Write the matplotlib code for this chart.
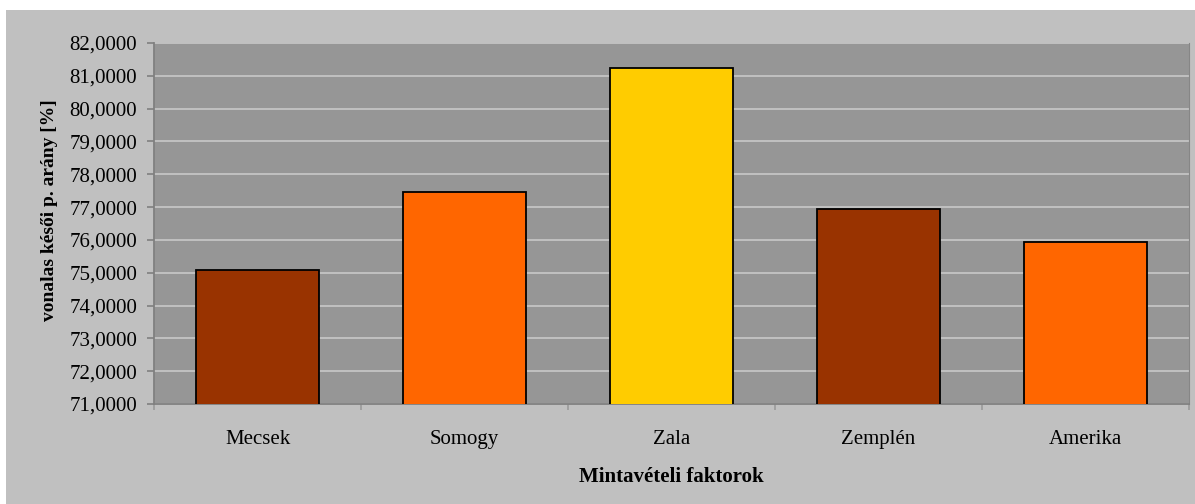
import matplotlib
matplotlib.use('Agg')
import matplotlib.pyplot as plt
from matplotlib.patches import Rectangle
from matplotlib.ticker import FuncFormatter, MultipleLocator

# adatok
categories = ['Mecsek', 'Somogy', 'Zala', 'Zemplén', 'Amerika']
values = [75.09, 77.46, 81.24, 76.95, 75.94]
bar_colors = ['#993300', '#FF6600', '#FFCC00', '#993300', '#FF6600']
y_min, y_max = 71, 82

plt.rcParams['font.family'] = ['Liberation Serif', 'DejaVu Serif']

fig = plt.figure(figsize=(11.95, 5.04), dpi=100, facecolor='white')
# szürke háttér a diagram körül
fig.patches.append(Rectangle((6 / 1195, 0), 1, (504 - 10) / 504,
                             transform=fig.transFigure, facecolor='#C0C0C0',
                             edgecolor='none', zorder=-10))

ax = fig.add_axes([154 / 1195, 100 / 504, (1189 - 154) / 1195, (404 - 43) / 504])
ax.set_facecolor('#969696')

x = range(len(categories))
ax.bar(x, values, width=0.59, color=bar_colors, edgecolor='black', linewidth=1.3, zorder=3)

ax.set_xlim(-0.5, len(categories) - 0.5)
ax.set_ylim(y_min, y_max)
ax.yaxis.set_major_locator(MultipleLocator(1))
ax.yaxis.set_major_formatter(FuncFormatter(lambda v, p: f'{v:.4f}'.replace('.', ',')))
ax.grid(axis='y', color='#C8C8C8', linewidth=1.2, zorder=1)
ax.set_axisbelow(True)

ax.set_xticks(list(x))
ax.set_xticklabels(categories, fontsize=15)
ax.tick_params(axis='x', length=0, pad=19)
# kategóriahatárok jelölése
ax.set_xticks([i - 0.5 for i in range(len(categories) + 1)], minor=True)
ax.tick_params(axis='x', which='minor', length=4.5, color='#9A9A9A', width=1.2)
ax.tick_params(axis='y', labelsize=15, length=5, color='#808080', width=1.2, pad=7)

for side in ['left', 'bottom']:
    ax.spines[side].set_color('#808080')
    ax.spines[side].set_linewidth(1.3)
ax.spines['right'].set_color('#868686')
ax.spines['top'].set_visible(False)

ax.set_xlabel('Mintavételi faktorok', fontsize=15, fontweight='bold', labelpad=13)
ax.set_ylabel('vonalas késői p. arány [%]', fontsize=14, fontweight='bold')
ax.yaxis.set_label_coords(-0.093, 0.537)

fig.savefig('out.png', dpi=100, facecolor=fig.get_facecolor())
